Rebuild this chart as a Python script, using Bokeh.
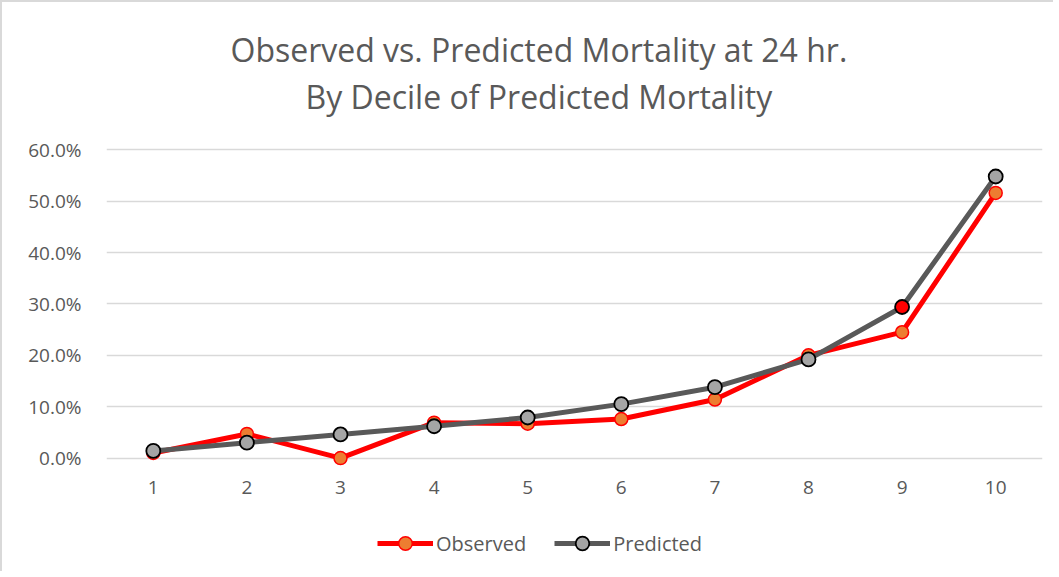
from bokeh.plotting import figure
from bokeh.layouts import column
from bokeh.models import (Title, Legend, LegendItem, NumeralTickFormatter,
                          FixedTicker, Range1d, ColumnDataSource)
from bokeh.embed import file_html
from bokeh.resources import INLINE

# ---- data ----
deciles = [1, 2, 3, 4, 5, 6, 7, 8, 9, 10]
observed = [0.010, 0.047, 0.000, 0.069, 0.067, 0.076, 0.114, 0.200, 0.245, 0.516]
predicted = [0.014, 0.030, 0.046, 0.062, 0.079, 0.105, 0.138, 0.192, 0.294, 0.548]
pred_fill = ["#A5A5A5"] * 8 + ["#FF0000", "#A5A5A5"]
y_ticks = [0.0, 0.1, 0.2, 0.3, 0.4, 0.5, 0.6]
title_lines = ["Observed vs. Predicted Mortality at 24 hr.",
               "By Decile of Predicted Mortality"]
series_names = ["Observed", "Predicted"]

FONT = "Open Sans"
GREY_TXT = "#595959"
OBS_LINE, OBS_FILL = "#FF0000", "#ED7D31"
PRED_LINE, PRED_FILL, PRED_EDGE = "#595959", "#A5A5A5", "#000000"

p = figure(width=1051, height=510, output_backend="svg", toolbar_location=None,
           title=None,
           x_range=Range1d(0.5, 10.5), y_range=Range1d(-0.03, 0.62),
           min_border_left=104, min_border_right=11,
           min_border_top=137, min_border_bottom=39)
p.outline_line_color = None
p.background_fill_color = "white"
p.border_fill_color = "white"

# titles (first added is nearest the plot)
t2 = Title(text=title_lines[1], align="left", text_font=FONT,
           text_font_size="32px", text_font_style="normal",
           text_color=GREY_TXT, standoff=44, offset=199)
t1 = Title(text=title_lines[0], align="left", text_font=FONT,
           text_font_size="32px", text_font_style="normal",
           text_color=GREY_TXT, standoff=-40, offset=124)
p.add_layout(t2, "above")
p.add_layout(t1, "above")

# axes
p.xaxis.ticker = FixedTicker(ticks=deciles)
p.yaxis.ticker = FixedTicker(ticks=y_ticks)
p.yaxis.formatter = NumeralTickFormatter(format="0.0%")
for ax in (p.xaxis[0], p.yaxis[0]):
    ax.axis_line_color = None
    ax.major_tick_line_color = None
    ax.minor_tick_line_color = None
    ax.major_label_text_font = FONT
    ax.major_label_text_font_size = "19px"
    ax.major_label_text_color = GREY_TXT
p.xaxis.major_label_standoff = 1
p.yaxis.major_label_standoff = 19

p.xgrid.grid_line_color = None
p.ygrid.grid_line_color = "#D9D9D9"
p.ygrid.grid_line_width = 1.5

src_o = ColumnDataSource(dict(x=deciles, y=observed))
src_p = ColumnDataSource(dict(x=deciles, y=predicted, fill=pred_fill))

p.line("x", "y", source=src_o, line_color=OBS_LINE, line_width=5)
p.scatter("x", "y", source=src_o, size=13, fill_color=OBS_FILL,
          line_color=OBS_LINE, line_width=1.5)
p.line("x", "y", source=src_p, line_color=PRED_LINE, line_width=5)
p.scatter("x", "y", source=src_p, size=14, fill_color="fill",
          line_color=PRED_EDGE, line_width=1.8)

# ---- legend strip below the chart (key only; its dummy marks sit off-canvas) ----
q = figure(width=1051, height=59, output_backend="svg", toolbar_location=None,
           title=None, x_axis_type=None, y_axis_type=None,
           x_range=Range1d(0, 1), y_range=Range1d(0, 1),
           min_border_left=0, min_border_right=0,
           min_border_top=0, min_border_bottom=0)
q.outline_line_color = None
q.background_fill_color = "white"
q.border_fill_color = "white"
key_src = ColumnDataSource(dict(x=[-5, -4], y=[-5, -4]))
klo = q.line("x", "y", source=key_src, line_color=OBS_LINE, line_width=5)
kso = q.scatter("x", "y", source=key_src, size=13, fill_color=OBS_FILL,
                line_color=OBS_LINE, line_width=1.5)
klp = q.line("x", "y", source=key_src, line_color=PRED_LINE, line_width=5)
ksp = q.scatter("x", "y", source=key_src, size=14, fill_color=PRED_FILL,
                line_color=PRED_EDGE, line_width=1.8)

legend = Legend(items=[LegendItem(label=series_names[0], renderers=[klo, kso]),
                       LegendItem(label=series_names[1], renderers=[klp, ksp])],
                orientation="horizontal", location=(271, 11),
                glyph_width=56, glyph_height=34, label_standoff=3, spacing=28,
                padding=0, margin=0, border_line_color=None,
                background_fill_alpha=0,
                label_text_font=FONT, label_text_font_size="20px",
                label_text_color=GREY_TXT)
q.add_layout(legend, "center")

lay = column(p, q, spacing=0)
lay.styles = {"border-left": "2px solid #D9D9D9", "border-top": "2px solid #D9D9D9"}

open("out.html", "w").write(file_html(lay, INLINE))
